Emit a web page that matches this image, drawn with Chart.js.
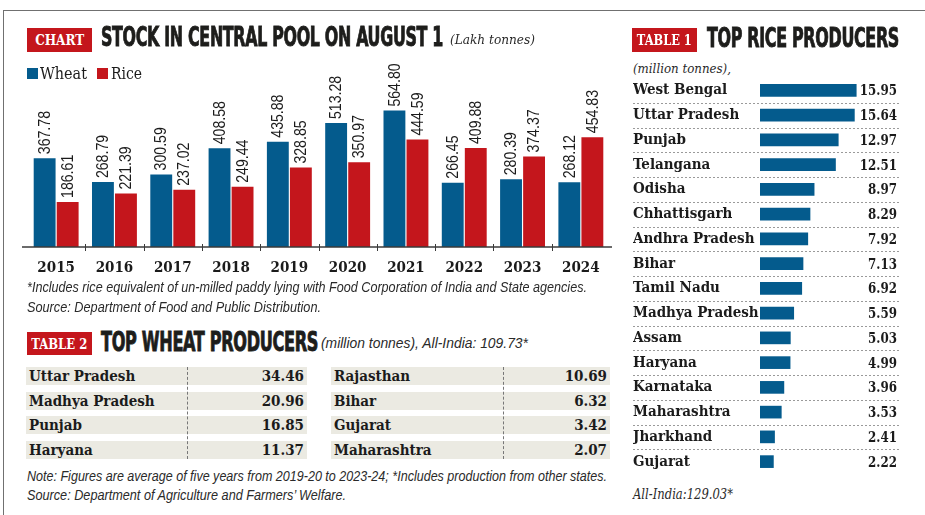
<!DOCTYPE html>
<html><head><meta charset="utf-8">
<script src="https://cdn.jsdelivr.net/npm/chart.js@4.4.1/dist/chart.umd.min.js"></script>
<style>
html,body{margin:0;padding:0;background:#fff;}
body{width:925px;height:515px;position:relative;overflow:hidden;color:#1b1b1b;}
.t{position:absolute;white-space:nowrap;line-height:1.2;transform-origin:0 50%;}
.frameTop{position:absolute;left:3px;top:10px;width:925px;height:0;border-top:1.5px solid #707070;}
.frameLeft{position:absolute;left:3px;top:10px;width:0;height:510px;border-left:1.5px solid #707070;}
.tag{position:absolute;background:#c4161c;display:flex;align-items:center;justify-content:center;}
.tag span{color:#fff;font-family:"DejaVu Serif Condensed","DejaVu Serif";font-stretch:condensed;font-weight:bold;font-size:14px;white-space:nowrap;transform-origin:50% 50%;display:inline-block;line-height:1;}
.title{font-family:"DejaVu Sans Condensed","DejaVu Sans";font-stretch:condensed;font-weight:bold;font-size:27px;color:#1d1d1b;-webkit-text-stroke:0.9px #1d1d1b;letter-spacing:-0.5px;}
.iserif{font-family:"DejaVu Serif Condensed","DejaVu Serif";font-stretch:condensed;font-style:italic;font-size:13px;color:#2a2a2a;}
.isans{font-family:"Liberation Sans";font-style:italic;font-size:14px;color:#2a2a2a;}
.leg{font-family:"DejaVu Serif Condensed","DejaVu Serif";font-stretch:condensed;font-size:16px;color:#1b1b1b;}
.sw{position:absolute;width:11px;height:11px;}
.row{position:absolute;height:18px;background:#ebeae2;}
.cell{position:absolute;top:0;line-height:18px;font-family:"DejaVu Serif Condensed","DejaVu Serif";font-stretch:condensed;font-weight:bold;font-size:15px;color:#1b1b1b;white-space:nowrap;}
.vdiv{position:absolute;width:0;border-left:1px dashed #777;}
canvas{position:absolute;}
</style></head>
<body>
<div class="frameTop"></div><div class="frameLeft"></div>

<canvas id="c1" width="600" height="230" style="left:20px;top:50px;width:600px;height:230px;"></canvas>

<div class="tag" style="left:27px;top:28px;width:65px;height:24px;"><span data-w="49">CHART</span></div>
<div class="t title" style="left:101px;top:21px;" data-w="342">STOCK IN CENTRAL POOL ON AUGUST 1</div>
<div class="t iserif" style="left:450px;top:32px;" data-w="85">(Lakh tonnes)</div>

<div class="sw" style="left:27px;top:68px;background:#045b8d;"></div>
<div class="t leg" style="left:40px;top:64px;" data-w="47">Wheat</div>
<div class="sw" style="left:97px;top:68px;background:#c4161c;"></div>
<div class="t leg" style="left:111px;top:64px;" data-w="31">Rice</div>

<div class="t isans" style="left:27px;top:279px;" data-w="560">*Includes rice equivalent of un-milled paddy lying with Food Corporation of India and State agencies.</div>
<div class="t isans" style="left:27px;top:299px;" data-w="294">Source: Department of Food and Public Distribution.</div>

<div class="tag" style="left:27px;top:332px;width:65px;height:23px;"><span data-w="56">TABLE 2</span></div>
<div class="t title" style="left:101px;top:326px;" data-w="217">TOP WHEAT PRODUCERS</div>
<div class="t isans" style="left:321px;top:334px;font-size:15px;" data-w="207">(million tonnes), All-India: 109.73*</div>

<div id="wt"></div>

<div class="t isans" style="left:27px;top:468px;" data-w="580">Note: Figures are average of five years from 2019-20 to 2023-24; *Includes production from other states.</div>
<div class="t isans" style="left:27px;top:487px;" data-w="319">Source: Department of Agriculture and Farmers’ Welfare.</div>

<div class="tag" style="left:632px;top:28px;width:65px;height:24px;"><span data-w="55">TABLE 1</span></div>
<div class="t title" style="left:707px;top:22px;" data-w="192">TOP RICE PRODUCERS</div>
<div class="t iserif" style="left:633px;top:61px;" data-w="98">(million tonnes),</div>

<canvas id="c2" width="275" height="414" style="left:630px;top:69px;width:275px;height:414px;"></canvas>

<div class="t iserif" style="left:633px;top:486px;font-size:14px;" data-w="100">All-India:129.03*</div>

<script>
// ---- Data ----
const years = ['2015','2016','2017','2018','2019','2020','2021','2022','2023','2024'];
const wheatStock = [367.78,268.79,300.59,408.58,435.88,513.28,564.80,266.45,280.39,268.12];
const riceStock = [186.61,221.39,237.02,249.44,328.85,350.97,444.59,409.88,374.37,454.83];

const riceStates = ['West Bengal','Uttar Pradesh','Punjab','Telangana','Odisha','Chhattisgarh','Andhra Pradesh','Bihar','Tamil Nadu','Madhya Pradesh','Assam','Haryana','Karnataka','Maharashtra','Jharkhand','Gujarat'];
const riceProd = [15.95,15.64,12.97,12.51,8.97,8.29,7.92,7.13,6.92,5.59,5.03,4.99,3.96,3.53,2.41,2.22];

const wheatStates = ['Uttar Pradesh','Madhya Pradesh','Punjab','Haryana','Rajasthan','Bihar','Gujarat','Maharashtra'];
const wheatProd = [34.46,20.96,16.85,11.37,10.69,6.32,3.42,2.07];

const BLUE = '#045b8d', RED = '#c4161c', INK = '#1b1b1b';
const SERIF = '"DejaVu Serif Condensed", "DejaVu Serif"';

// ---- Wheat table (HTML) ----
(function(){
  const host = document.getElementById('wt');
  const cols = [{x:26,w:281,div:187},{x:331,w:279,div:503}];
  wheatStates.forEach((s,i)=>{
    const c = cols[Math.floor(i/4)], r = i%4;
    const row = document.createElement('div');
    row.className='row';
    row.style.left=c.x+'px'; row.style.top=(367+r*24.6)+'px'; row.style.width=c.w+'px';
    const n=document.createElement('div'); n.className='cell'; n.style.left='3px'; n.textContent=s;
    const v=document.createElement('div'); v.className='cell'; v.style.right='3px'; v.textContent=wheatProd[i].toFixed(2);
    row.appendChild(n); row.appendChild(v); host.appendChild(row);
  });
  cols.forEach(c=>{
    const d=document.createElement('div'); d.className='vdiv';
    d.style.left=c.div+'px'; d.style.top='367px'; d.style.height='92px';
    host.appendChild(d);
  });
})();

// fit text widths
document.querySelectorAll('[data-w]').forEach(el=>{
  const w = el.getBoundingClientRect().width;
  el.style.transform = 'scaleX(' + (parseFloat(el.dataset.w)/w) + ')';
});

// ---- Main chart ----
const barLabels = {
  id:'barLabels',
  afterDatasetsDraw(chart){
    const ctx = chart.ctx;
    ctx.save();
    ctx.font = '17px "Liberation Sans"';
    ctx.fillStyle = INK; ctx.textAlign='left'; ctx.textBaseline='middle';
    chart.data.datasets.forEach((ds,di)=>{
      chart.getDatasetMeta(di).data.forEach((bar,i)=>{
        ctx.save();
        ctx.translate(bar.x+0.5, bar.y-4);
        ctx.rotate(-Math.PI/2);
        ctx.scale(0.83,1);
        ctx.fillText(ds.data[i].toFixed(2),0,0);
        ctx.restore();
      });
    });
    ctx.restore();
  }
};
const axisLine = {
  id:'axisLine',
  afterDatasetsDraw(chart){
    const {ctx, chartArea:a, scales:{x}} = chart;
    ctx.save();
    ctx.strokeStyle='#3a3a3a'; ctx.lineWidth=1.5;
    ctx.beginPath(); ctx.moveTo(a.left-5, a.bottom); ctx.lineTo(a.right+2, a.bottom); ctx.stroke();
    ctx.lineWidth=1; ctx.beginPath();
    for(let i=1;i<years.length;i++){
      const px = Math.round((x.getPixelForTick(i-1)+x.getPixelForTick(i))/2)+0.5;
      ctx.moveTo(px, a.bottom-3); ctx.lineTo(px, a.bottom+4);
    }
    ctx.stroke(); ctx.restore();
  }
};
new Chart(document.getElementById('c1'), {
  type:'bar',
  data:{labels:years, datasets:[
    {label:'Wheat', data:wheatStock, backgroundColor:BLUE, categoryPercentage:0.79, barPercentage:0.95},
    {label:'Rice', data:riceStock, backgroundColor:RED, categoryPercentage:0.79, barPercentage:0.95}
  ]},
  options:{
    responsive:false, animation:false, devicePixelRatio:1,
    layout:{padding:{left:7,right:10,top:40,bottom:0}},
    plugins:{legend:{display:false}, tooltip:{enabled:false}},
    scales:{
      x:{grid:{display:false, drawTicks:false}, border:{display:false},
         ticks:{font:{family:SERIF, weight:'bold', size:15}, color:INK, padding:12, maxRotation:0, autoSkip:false},
         afterFit(s){ s.height = 33; }},
      y:{display:false, min:0, max:650}
    }
  },
  plugins:[barLabels, axisLine]
});

// ---- Rice chart ----
const riceExtras = {
  id:'riceExtras',
  afterDatasetsDraw(chart){
    const {ctx, scales:{y}} = chart;
    ctx.save();
    ctx.strokeStyle='#9a9a9a'; ctx.lineWidth=1; ctx.setLineDash([2,2]);
    ctx.beginPath();
    for(let i=1;i<riceStates.length;i++){
      const py = Math.round((y.getPixelForTick(i-1)+y.getPixelForTick(i))/2)+0.5;
      ctx.moveTo(3, py); ctx.lineTo(271, py);
    }
    ctx.stroke();
    ctx.setLineDash([]);
    ctx.font = 'bold 15px ' + SERIF;
    ctx.fillStyle = INK; ctx.textAlign='right'; ctx.textBaseline='middle';
    chart.getDatasetMeta(0).data.forEach((bar,i)=>{
      ctx.save();
      ctx.translate(267, bar.y+1);
      ctx.scale(0.88,1);
      ctx.fillText(riceProd[i].toFixed(2), 0, 0);
      ctx.restore();
    });
    ctx.restore();
  }
};
new Chart(document.getElementById('c2'), {
  type:'bar',
  data:{labels:riceStates, datasets:[{data:riceProd, backgroundColor:BLUE, barThickness:12}]},
  options:{
    indexAxis:'y', responsive:false, animation:false, devicePixelRatio:1,
    layout:{padding:{left:3,right:5,top:0,bottom:0}},
    plugins:{legend:{display:false}, tooltip:{enabled:false}},
    scales:{
      x:{display:false, min:0, max:23.2},
      y:{grid:{display:false, drawTicks:false}, border:{display:false},
         ticks:{crossAlign:'far', font:{family:SERIF, weight:'bold', size:15}, color:INK, padding:0, autoSkip:false},
         afterFit(s){ s.width = 127; }}
    }
  },
  plugins:[riceExtras]
});
</script>
</body></html>
